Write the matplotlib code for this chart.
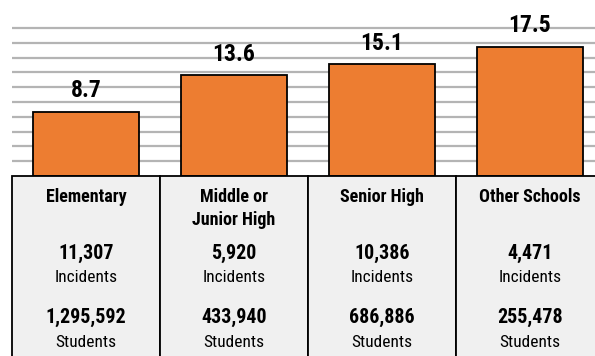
import matplotlib.pyplot as plt
from matplotlib.patches import Rectangle
from matplotlib import font_manager

# incidents per 1,000 students, by school type
categories = ["Elementary", "Middle or\nJunior High", "Senior High", "Other Schools"]
rates = [8.7, 13.6, 15.1, 17.5]
incidents = ["11,307", "5,920", "10,386", "4,471"]
students = ["1,295,592", "433,940", "686,886", "255,478"]
grid_levels = [2, 4, 6, 8, 10, 12, 14, 16, 18, 20]

# pick a narrow face when one is installed
names = set(f.name for f in font_manager.fontManager.ttflist)
narrow = "Liberation Sans"
for cand in ["Arial Narrow", "Liberation Sans Narrow", "Roboto Condensed", "Archivo Narrow"]:
    if cand in names:
        narrow = cand
        break
plt.rcParams['font.family'] = [narrow, 'DejaVu Sans']

W, H = 595, 356
fig = plt.figure(figsize=(W / 100, H / 100), dpi=100)

left = 12 / W
base = (H - 176) / H
xmin, xmax = -0.5, -0.5 + (W - 12) / 148

# bar chart
ax = fig.add_axes([left, base, 1 - left, 176 / H])
ax.set_xlim(xmin, xmax)
ax.set_ylim(0, 176 / 7.4)
for g in grid_levels:
    ax.axhline(g, color="#b4b4b4", lw=1.6, zorder=0)
x = range(len(rates))
ax.bar(x, rates, width=0.72, color="#ED7D31", edgecolor="black", lw=1.3, zorder=2)
for xi, r in zip(x, rates):
    ax.text(xi, r + 1.95, f"{r}", ha="center", va="baseline", fontsize=17, fontweight="bold")
ax.axis("off")

# table underneath
tx = fig.add_axes([left, 0, 1 - left, base])
tx.set_xlim(xmin, xmax)
tx.set_ylim(180, 0)
tx.axis("off")
for i in range(len(categories)):
    tx.add_patch(Rectangle((i - 0.5, 0), 1, 200, facecolor="#f0f0f0",
                           edgecolor="black", lw=1.3, clip_on=False))
    lines = categories[i].split("\n")
    for k, line in enumerate(lines):
        tx.text(i, 26 + 23 * k, line, ha="center", va="baseline", fontsize=13,
                fontweight="bold")
    tx.text(i, 83, incidents[i], ha="center", va="baseline", fontsize=14.4, fontweight="bold")
    tx.text(i, 106, "Incidents", ha="center", va="baseline", fontsize=12.5)
    tx.text(i, 147, students[i], ha="center", va="baseline", fontsize=14.4, fontweight="bold")
    tx.text(i, 171, "Students", ha="center", va="baseline", fontsize=12.5)

fig.savefig("out.png", dpi=100)
